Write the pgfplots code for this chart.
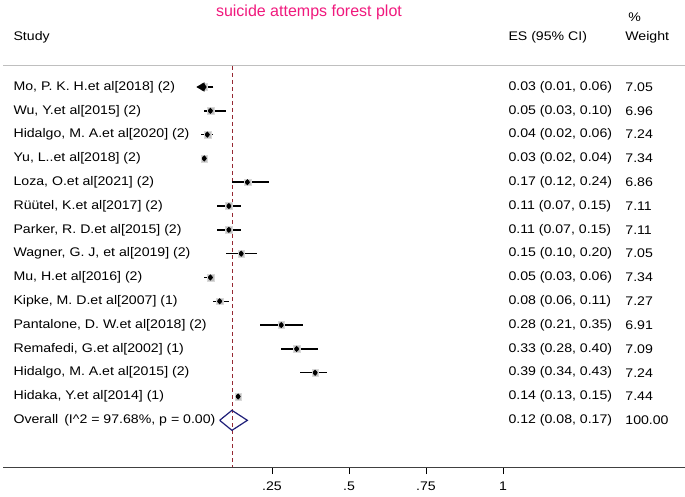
\documentclass[border=0pt]{standalone}
\usepackage{fontspec}
\setmainfont[FakeStretch=1.13]{Liberation Sans}
\newfontfamily\titlefont{Liberation Sans}
\usepackage{pgfplots}
\pgfplotsset{compat=1.18}
\usepackage{pgfplotstable}
\definecolor{titlepink}{RGB}{240,25,125}
\definecolor{refred}{RGB}{150,40,50}
\definecolor{navy}{RGB}{30,30,120}

% row, es, lo, hi, weight
\pgfplotstableread{
row es lo hi w
-1 0.03 0.01 0.06 7.05
-2 0.05 0.03 0.10 6.96
-3 0.04 0.02 0.06 7.24
-4 0.03 0.02 0.04 7.34
-5 0.17 0.12 0.24 6.86
-6 0.11 0.07 0.15 7.11
-7 0.11 0.07 0.15 7.11
-8 0.15 0.10 0.20 7.05
-9 0.05 0.03 0.06 7.34
-10 0.08 0.06 0.11 7.27
-11 0.28 0.21 0.35 6.91
-12 0.33 0.28 0.40 7.09
-13 0.39 0.34 0.43 7.24
-14 0.14 0.13 0.15 7.44
}\studies

\pgfplotstableread{
row es lo hi w
-2 0.05 0.03 0.10 6.96
-3 0.04 0.02 0.06 7.24
-4 0.03 0.02 0.04 7.34
-5 0.17 0.12 0.24 6.86
-6 0.11 0.07 0.15 7.11
-7 0.11 0.07 0.15 7.11
-8 0.15 0.10 0.20 7.05
-9 0.05 0.03 0.06 7.34
-10 0.08 0.06 0.11 7.27
-11 0.28 0.21 0.35 6.91
-12 0.33 0.28 0.40 7.09
-13 0.39 0.34 0.43 7.24
-14 0.14 0.13 0.15 7.44
}\cistudies

\begin{document}
\begin{tikzpicture}[x=1pt,y=1pt]
\begin{axis}[
  scale only axis,
  width=682pt, height=401pt,
  xmin=-0.6234, xmax=1.591,
  ymin=-16.96, ymax=-0.118,
  clip=false,
  axis x line=bottom,
  axis y line=none,
  x axis line style={-, line width=0.7pt, black!75},
  xtick={0.25,0.5,0.75,1},
  xticklabels={.25,.5,.75,1},
  tick align=outside,
  major tick length=7pt,
  xtick style={line width=0.9pt, black},
  xticklabel style={font=\fontsize{12.5}{14}\selectfont, yshift=-4pt},
  /pgf/number format/assume math mode=true,
  font=\fontsize{12.5}{15}\selectfont,
]
% top rule
\addplot[black!25, line width=1pt, forget plot] coordinates {(-0.6234,-0.118) (1.591,-0.118)};
% overall dashed line
\addplot[refred, line width=0.7pt, dash pattern=on 4pt off 3pt] coordinates {(0.12,-0.118) (0.12,-16.96)};
% grey weight boxes
\addplot[only marks, mark=square*, mark size=3.4pt, draw=black!15, fill=black!25] table[x=es, y=row] {\studies};
% CIs
\addplot[only marks, mark=none, black,
  error bars/.cd, x dir=both, x explicit, error mark=none,
  error bar style={line width=1.5pt, black}]
  table[x=es, y=row, x error plus expr=\thisrow{hi}-\thisrow{es}, x error minus expr=\thisrow{es}-\thisrow{lo}] {\cistudies};
% points
\addplot[only marks, mark=diamond*, mark size=2.8pt, black] table[x=es, y=row] {\studies};
% Mo: CI clipped at the left, drawn as a line ending in a left-pointing arrowhead
\addplot[black, line width=1.5pt, mark=none] coordinates {(0.06,-1) (0.022,-1)};
\addplot[only marks, mark=triangle*, mark size=5pt, mark options={rotate=90, black, fill=black}] coordinates {(0.022,-1)};
% overall diamond
\addplot[navy, line width=1.2pt] coordinates {(0.08,-15) (0.12,-14.58) (0.17,-15) (0.12,-15.42) (0.08,-15)};

% title and headers
\node[titlepink, font=\titlefont\fontsize{16}{18}\selectfont] at (axis cs:0.37,2.15) {suicide attemps forest plot};
\node[anchor=west] at (axis cs:-0.6006,1.10) {Study};
\node[anchor=west] at (axis cs:1.0065,1.10) {ES (95\% CI)};
\node[anchor=west] at (axis cs:1.386,1.10) {Weight};
\node[anchor=west] at (axis cs:1.396,1.94) {\%};

% study labels
\node[anchor=west] at (axis cs:-0.6006,-1) {Mo, P. K. H.et al[2018] (2)};
\node[anchor=west] at (axis cs:-0.6006,-2) {Wu, Y.et al[2015] (2)};
\node[anchor=west] at (axis cs:-0.6006,-3) {Hidalgo, M. A.et al[2020] (2)};
\node[anchor=west] at (axis cs:-0.6006,-4) {Yu, L..et al[2018] (2)};
\node[anchor=west] at (axis cs:-0.6006,-5) {Loza, O.et al[2021] (2)};
\node[anchor=west] at (axis cs:-0.6006,-6) {Rüütel, K.et al[2017] (2)};
\node[anchor=west] at (axis cs:-0.6006,-7) {Parker, R. D.et al[2015] (2)};
\node[anchor=west] at (axis cs:-0.6006,-8) {Wagner, G. J, et al[2019] (2)};
\node[anchor=west] at (axis cs:-0.6006,-9) {Mu, H.et al[2016] (2)};
\node[anchor=west] at (axis cs:-0.6006,-10) {Kipke, M. D.et al[2007] (1)};
\node[anchor=west] at (axis cs:-0.6006,-11) {Pantalone, D. W.et al[2018] (2)};
\node[anchor=west] at (axis cs:-0.6006,-12) {Remafedi, G.et al[2002] (1)};
\node[anchor=west] at (axis cs:-0.6006,-13) {Hidalgo, M. A.et al[2015] (2)};
\node[anchor=west] at (axis cs:-0.6006,-14) {Hidaka, Y.et al[2014] (1)};
\node[anchor=west] at (axis cs:-0.6006,-15) {Overall\ \,(I\^{}2 = 97.68\%, p = 0.00)};

% ES column
\node[anchor=west] at (axis cs:1.0065,-1) {0.03 (0.01, 0.06)};
\node[anchor=west] at (axis cs:1.0065,-2) {0.05 (0.03, 0.10)};
\node[anchor=west] at (axis cs:1.0065,-3) {0.04 (0.02, 0.06)};
\node[anchor=west] at (axis cs:1.0065,-4) {0.03 (0.02, 0.04)};
\node[anchor=west] at (axis cs:1.0065,-5) {0.17 (0.12, 0.24)};
\node[anchor=west] at (axis cs:1.0065,-6) {0.11 (0.07, 0.15)};
\node[anchor=west] at (axis cs:1.0065,-7) {0.11 (0.07, 0.15)};
\node[anchor=west] at (axis cs:1.0065,-8) {0.15 (0.10, 0.20)};
\node[anchor=west] at (axis cs:1.0065,-9) {0.05 (0.03, 0.06)};
\node[anchor=west] at (axis cs:1.0065,-10) {0.08 (0.06, 0.11)};
\node[anchor=west] at (axis cs:1.0065,-11) {0.28 (0.21, 0.35)};
\node[anchor=west] at (axis cs:1.0065,-12) {0.33 (0.28, 0.40)};
\node[anchor=west] at (axis cs:1.0065,-13) {0.39 (0.34, 0.43)};
\node[anchor=west] at (axis cs:1.0065,-14) {0.14 (0.13, 0.15)};
\node[anchor=west] at (axis cs:1.0065,-15) {0.12 (0.08, 0.17)};

% weight column
\node[anchor=west] at (axis cs:1.386,-1) {7.05};
\node[anchor=west] at (axis cs:1.386,-2) {6.96};
\node[anchor=west] at (axis cs:1.386,-3) {7.24};
\node[anchor=west] at (axis cs:1.386,-4) {7.34};
\node[anchor=west] at (axis cs:1.386,-5) {6.86};
\node[anchor=west] at (axis cs:1.386,-6) {7.11};
\node[anchor=west] at (axis cs:1.386,-7) {7.11};
\node[anchor=west] at (axis cs:1.386,-8) {7.05};
\node[anchor=west] at (axis cs:1.386,-9) {7.34};
\node[anchor=west] at (axis cs:1.386,-10) {7.27};
\node[anchor=west] at (axis cs:1.386,-11) {6.91};
\node[anchor=west] at (axis cs:1.386,-12) {7.09};
\node[anchor=west] at (axis cs:1.386,-13) {7.24};
\node[anchor=west] at (axis cs:1.386,-14) {7.44};
\node[anchor=west] at (axis cs:1.386,-15) {100.00};

\coordinate (BL) at (rel axis cs:0,0);
\coordinate (TR) at (rel axis cs:1,1);
\end{axis}
\pgfresetboundingbox
\path ([shift={(-3pt,-29pt)}]BL) rectangle ([shift={(0pt,66pt)}]TR);
\end{tikzpicture}
\end{document}
